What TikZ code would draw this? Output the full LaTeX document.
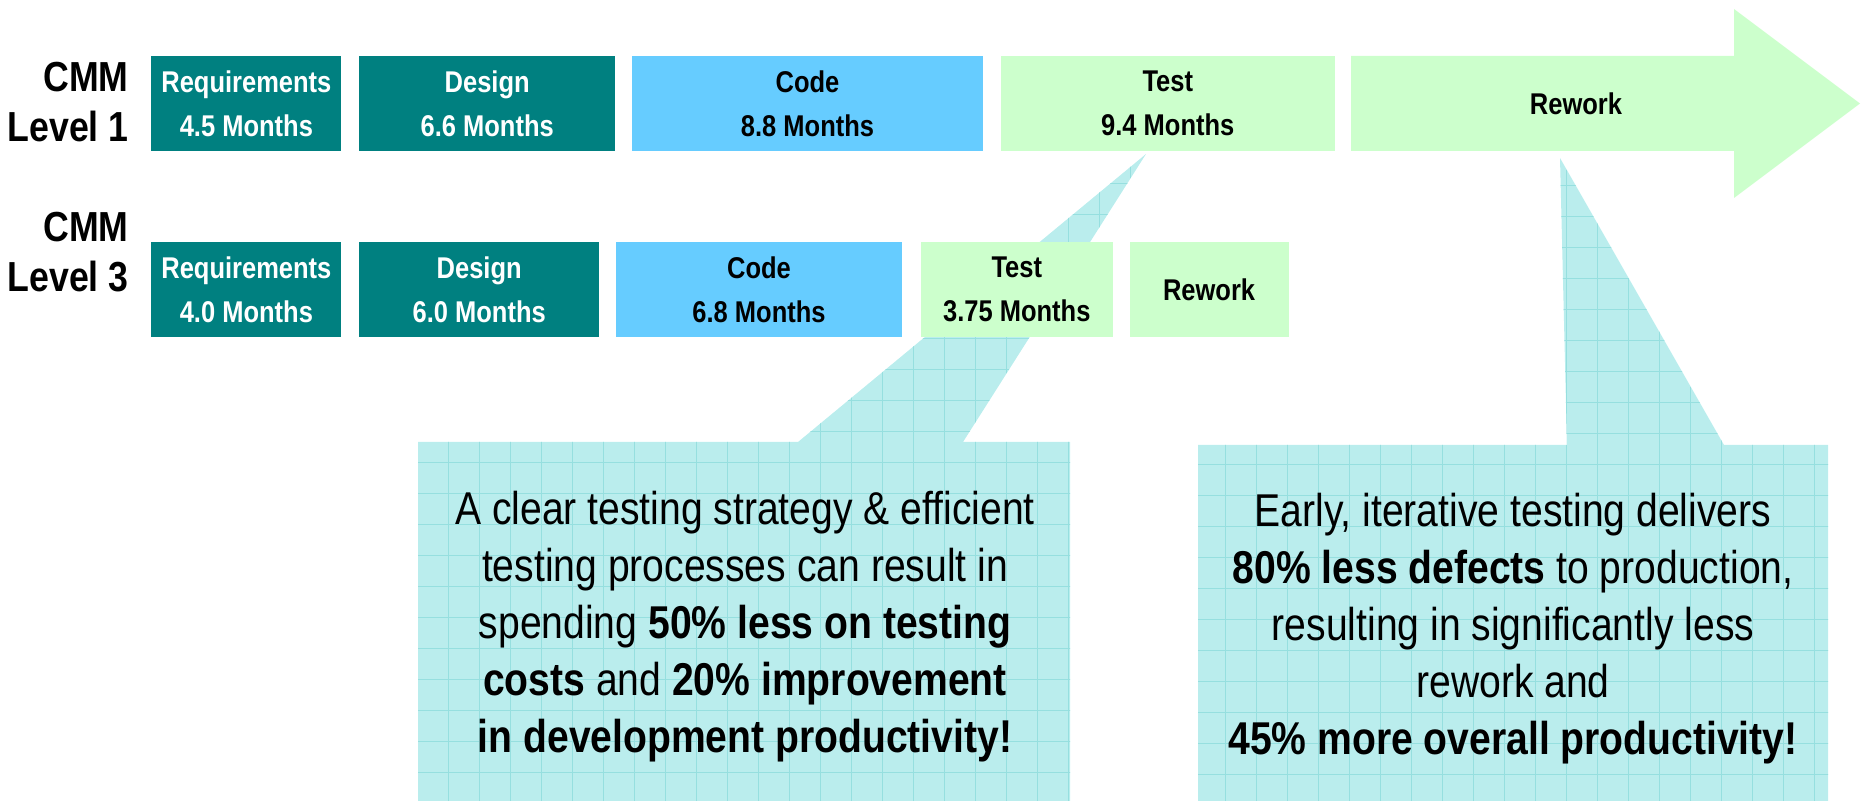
\documentclass[tikz,border=0pt]{standalone}
\usepackage{fontspec}
\setmainfont{Liberation Sans}[FakeStretch=0.85]
\usepackage{color}
\usepackage{tikz}
\usetikzlibrary{arrows}
\usetikzlibrary{shapes}

\definecolor{phase}{HTML}{008080}
\definecolor{coding}{HTML}{66CCFF}
\definecolor{testing}{HTML}{CCFFCC}
\definecolor{note}{HTML}{BAEDED}
\definecolor{noteline}{HTML}{96DFDF}

\begin{document}
\begin{tikzpicture}[x=0.5pt,y=-0.5pt,inner sep=0pt]
\tikzstyle{box}=[anchor=west,minimum height=47.5pt,align=center,
                 font=\fontsize{15}{22}\selectfont\bfseries]
\tikzstyle{early}=[box,fill=phase,text=white]
\tikzstyle{codebox}=[box,fill=coding]
\tikzstyle{testbox}=[box,fill=testing]
\tikzstyle{level}=[anchor=east,align=right,font=\fontsize{21}{25}\selectfont\bfseries]
\tikzstyle{notetext}=[align=center,font=\fontsize{23}{28.5}\selectfont]
\tikzstyle{grid}=[noteline,line width=0.45pt]

\useasboundingbox (0,0) rectangle (1863,801);

% callouts first, the boxes lie over them
\begin{scope}
\clip (418,442) -- (798,442) -- (1146,154) -- (963,442) -- (1070,442)
      -- (1070,801) -- (418,801) -- cycle;
\fill[note] (0,0) rectangle (1863,801);
\foreach \x in {448,479,...,1160} \draw[grid] (\x,150) -- (\x,801);
\foreach \y in {152,183,...,801} \draw[grid] (418,\y) -- (1160,\y);
\end{scope}
\begin{scope}
\clip (1198,445) -- (1567,445) -- (1560,158) -- (1724,445) -- (1828,445)
      -- (1828,801) -- (1198,801) -- cycle;
\fill[note] (0,0) rectangle (1863,801);
\foreach \x in {1225,1256,...,1830} \draw[grid] (\x,150) -- (\x,801);
\foreach \y in {154,185,...,801} \draw[grid] (1198,\y) -- (1830,\y);
\end{scope}

\fill[testing] (1351,56) -- (1734,56) -- (1734,9) -- (1860,103.5)
      -- (1734,198) -- (1734,151) -- (1351,151) -- cycle;

\path
node[level] (L1) at (129,102) {CMM\\Level 1}
(151,103.5) node[early,minimum width=95pt] (R1) {Requirements\\4.5 Months}
(R1.east) ++ (17,0) node[early,minimum width=128pt] (D1) {Design\\6.6 Months}
(D1.east) ++ (16,0) node[codebox,minimum width=175.5pt] (C1) {Code\\8.8 Months}
(C1.east) ++ (17,0) node[testbox,minimum width=167pt] (T1) {Test\\9.4 Months}
(1576,103.5) node[font=\fontsize{15}{22}\selectfont\bfseries] (W1) {Rework};

\path
node[level] (L3) at (129,252) {CMM\\Level 3}
(151,289.5) node[early,minimum width=95pt] (R3) {Requirements\\4.0 Months}
(R3.east) ++ (17,0) node[early,minimum width=120pt] (D3) {Design\\6.0 Months}
(D3.east) ++ (16,0) node[codebox,minimum width=143pt] (C3) {Code\\6.8 Months}
(C3.east) ++ (18,0) node[testbox,minimum width=96pt] (T3) {Test\\3.75 Months}
(T3.east) ++ (16,0) node[testbox,minimum width=79.5pt] (W3) {Rework};

\node[notetext] (N1) at (745,627) {A clear testing strategy \& efficient\\
  testing processes can result in\\
  spending \textbf{50\% less on testing}\\
  \textbf{costs} and \textbf{20\% improvement}\\
  \textbf{in development productivity!}};
\node[notetext] (N2) at (1513,629) {Early, iterative testing delivers\\
  \textbf{80\% less defects} to production,\\
  resulting in significantly less\\
  rework and\\
  \textbf{45\% more overall productivity!}};
\end{tikzpicture}
\end{document}
